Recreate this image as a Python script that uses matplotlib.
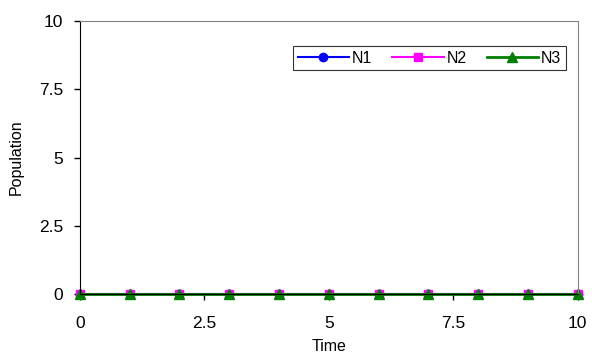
import matplotlib.pyplot as plt

# data
time = [0, 1, 2, 3, 4, 5, 6, 7, 8, 9, 10]
n1 = [0, 0, 0, 0, 0, 0, 0, 0, 0, 0, 0]
n2 = [0, 0, 0, 0, 0, 0, 0, 0, 0, 0, 0]
n3 = [0, 0, 0, 0, 0, 0, 0, 0, 0, 0, 0]

plt.rcParams['font.family'] = ['Liberation Sans', 'DejaVu Sans']

fig = plt.figure(figsize=(5.92, 3.58), dpi=100)
ax = fig.add_axes([0.135, 0.179, 0.841, 0.762])

ax.plot(time, n1, color="blue", marker="o", markersize=6, lw=1.5, label="N1", clip_on=False)
ax.plot(time, n2, color="magenta", marker="s", markersize=6, lw=1.5, label="N2", clip_on=False)
ax.plot(time, n3, color="green", marker="^", markersize=7, lw=2, label="N3", clip_on=False)

ax.set_xlim(0, 10)
ax.set_ylim(0, 10)
ax.set_xticks([0, 2.5, 5, 7.5, 10])
ax.set_xticklabels(["0", "2.5", "5", "7.5", "10"])
ax.set_yticks([0, 2.5, 5, 7.5, 10])
ax.set_yticklabels(["0", "2.5", "5", "7.5", "10"])
ax.tick_params(labelsize=12.5, length=4, width=1, direction="out", pad=8)
ax.tick_params(axis="x", pad=12)

for s in ["top", "right"]:
    ax.spines[s].set_color("gray")
for s in ["left", "bottom"]:
    ax.spines[s].set_color("black")

ax.set_xlabel("Time", fontsize=11.5, labelpad=5.5)
ax.set_ylabel("Population", fontsize=11.5, labelpad=11)

leg = ax.legend(loc="upper right", bbox_to_anchor=(0.976, 0.908), borderaxespad=0,
                ncol=3, fontsize=11.5, frameon=True, fancybox=False, edgecolor="black",
                handlelength=3.2, columnspacing=1.25, handletextpad=0.2, borderpad=0.28)
leg.get_frame().set_linewidth(0.8)

fig.savefig("out.png", dpi=100)
